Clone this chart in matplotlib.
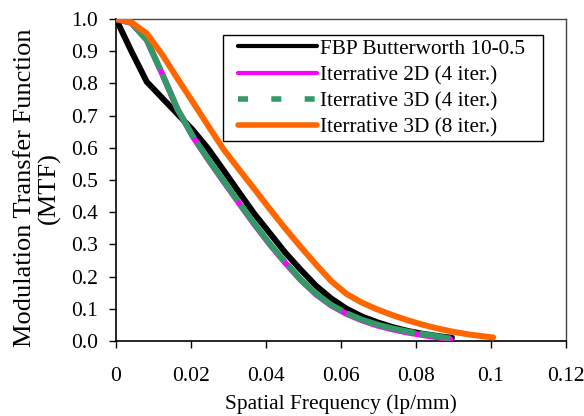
import matplotlib.pyplot as plt
from matplotlib.lines import Line2D
from matplotlib.patches import Rectangle
from matplotlib.ticker import FuncFormatter, MultipleLocator

plt.rcParams['font.family'] = ['Liberation Serif', 'DejaVu Serif']

# Spatial frequency samples (lp/mm)
freq_fbp = [0, 0.0041, 0.0082, 0.0123, 0.0164, 0.0205, 0.0246, 0.0287, 0.0328, 0.0369,
            0.041, 0.0451, 0.0492, 0.0533, 0.0574, 0.0615, 0.0656, 0.0697, 0.0738,
            0.0779, 0.082, 0.0861, 0.0896]
mtf_fbp = [1.0, 0.90, 0.805, 0.755, 0.705, 0.655, 0.597, 0.530, 0.462, 0.395,
           0.335, 0.275, 0.222, 0.172, 0.132, 0.100, 0.076, 0.058, 0.043,
           0.031, 0.022, 0.015, 0.010]

freq_it = [0, 0.0041, 0.0082, 0.0123, 0.0164, 0.0205, 0.0246, 0.0287, 0.0328, 0.0369,
           0.041, 0.0451, 0.0492, 0.0533, 0.0574, 0.0615, 0.0656, 0.0697, 0.0738,
           0.0779, 0.082, 0.0861, 0.0891]
mtf_2d4 = [1.0, 0.988, 0.935, 0.83, 0.72, 0.635, 0.563, 0.495, 0.428, 0.362,
           0.300, 0.243, 0.190, 0.145, 0.110, 0.084, 0.064, 0.048, 0.036,
           0.026, 0.018, 0.011, 0.006]
mtf_3d4 = [1.0, 0.988, 0.935, 0.83, 0.72, 0.635, 0.565, 0.497, 0.430, 0.364,
           0.302, 0.245, 0.192, 0.147, 0.112, 0.086, 0.066, 0.051, 0.039,
           0.029, 0.021, 0.014, 0.008]

freq_3d8 = [0, 0.0041, 0.0082, 0.0123, 0.0164, 0.0205, 0.0246, 0.0287, 0.0328, 0.0369,
            0.041, 0.0451, 0.0492, 0.0533, 0.0574, 0.0615, 0.0656, 0.0697, 0.0738,
            0.0779, 0.082, 0.0861, 0.0902, 0.0943, 0.0984, 0.1006]
mtf_3d8 = [1.0, 0.99, 0.955, 0.89, 0.815, 0.742, 0.668, 0.595, 0.533, 0.472,
           0.41, 0.35, 0.293, 0.238, 0.186, 0.146, 0.119, 0.098, 0.080,
           0.064, 0.050, 0.038, 0.028, 0.020, 0.014, 0.011]

labels = ['FBP Butterworth 10-0.5', 'Iterrative 2D (4 iter.)',
          'Iterrative 3D (4 iter.)', 'Iterrative 3D (8 iter.)']
colors = ['black', '#FF00FF', '#339966', '#FF6600']

fig = plt.figure(figsize=(5.84, 4.16), dpi=100)
ax = fig.add_axes([116 / 584, 1 - 341 / 416, 450 / 584, 322 / 416])

lw = 4.3
ax.plot(freq_fbp, mtf_fbp, color=colors[0], lw=lw, solid_capstyle='round', zorder=3)
ax.plot(freq_it, mtf_2d4, color=colors[1], lw=lw, solid_capstyle='round', zorder=4)
ax.plot(freq_it, mtf_3d4, color=colors[2], lw=lw, dashes=(12, 0.8), zorder=5)
ax.plot(freq_3d8, mtf_3d8, color=colors[3], lw=lw, solid_capstyle='round', zorder=6)

ax.set_xlim(0, 0.12)
ax.set_ylim(0, 1.0)
ax.xaxis.set_major_locator(MultipleLocator(0.02))
ax.yaxis.set_major_locator(MultipleLocator(0.1))
ax.xaxis.set_major_formatter(FuncFormatter(lambda v, pos: f'{round(v, 3):g}'))
ax.yaxis.set_major_formatter(FuncFormatter(lambda v, pos: f'{v:.1f}'))
ax.tick_params(direction='out', length=5, width=1, labelsize=15.5, color='black')
ax.tick_params(axis='x', pad=14)
ax.tick_params(axis='y', pad=8)
for s in ['left', 'bottom']:
    ax.spines[s].set_linewidth(1.2)
for s in ['top', 'right']:
    ax.spines[s].set_linewidth(1.0)
    ax.spines[s].set_color('#444444')

ax.set_xlabel('Spatial Frequency (lp/mm)', fontsize=15.5)
ax.xaxis.set_label_coords(0.5, -0.165)
ax.set_ylabel('Modulation Transfer Function\n(MTF)', fontsize=19, linespacing=1.1)
ax.yaxis.set_label_coords(-0.123, 0.475)

# legend box drawn separately so its padding can match the reference
ax.add_patch(Rectangle((0.238, 0.621), 0.711, 0.329, transform=ax.transAxes,
                       facecolor='white', edgecolor='black', lw=1.0, zorder=7))
handles = [
    Line2D([], [], color=colors[0], lw=3, solid_capstyle='round'),
    Line2D([], [], color=colors[1], lw=3, solid_capstyle='round'),
    Line2D([], [], color=colors[2], lw=4, dashes=(1.8, 4.2)),
    Line2D([], [], color=colors[3], lw=4, solid_capstyle='round'),
]
leg = ax.legend(handles, labels, loc='upper left', bbox_to_anchor=(0.272, 0.938),
                fontsize=15.3, handlelength=3.7, handletextpad=0.12,
                labelspacing=0.3, borderpad=0, borderaxespad=0, frameon=False)
leg.set_zorder(8)

fig.savefig('out.png', dpi=100)
